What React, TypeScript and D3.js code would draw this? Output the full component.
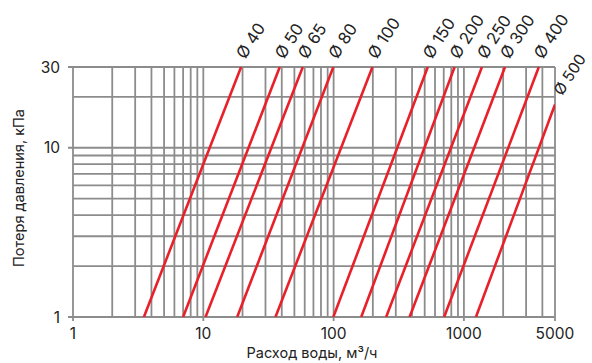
import React from "react";
import * as d3 from "d3";

const diameters = ["Ø 40", "Ø 50", "Ø 65", "Ø 80", "Ø 100", "Ø 150", "Ø 200", "Ø 250", "Ø 300", "Ø 400", "Ø 500"];
const startFlow = [3.5, 7.0, 10.4, 18.2, 35.8, 99.5, 163, 253, 383, 705, 1237];
const startPressure = [1, 1, 1, 1, 1, 1, 1, 1, 1, 1, 1];
const endFlow = [19.5, 38.6, 58, 99.5, 198.6, 528, 848, 1375, 2067, 3756, 5000];
const endPressure = [30, 30, 30, 30, 30, 30, 30, 30, 30, 30, 18];

const xTickLabels = [1, 10, 100, 1000, 5000];
const yTickLabels = [1, 10, 30];
const xGrid = [1, 2, 3, 4, 5, 6, 7, 8, 9, 10, 20, 30, 40, 50, 60, 70, 80, 90, 100, 200, 300, 400, 500, 600, 700, 800, 900, 1000, 2000, 3000, 4000, 5000];
const yGrid = [1, 2, 3, 4, 5, 6, 7, 8, 9, 10, 20, 30];

const W = 592, H = 363;
const M = { left: 73, right: 555, top: 67, bottom: 317 };
const FONT = "Inter, 'Open Sans', sans-serif";

export default function App() {
  const x = d3.scaleLog().domain([1, 5000]).range([M.left, M.right]);
  const y = d3.scaleLog().domain([1, 30]).range([M.bottom, M.top]);
  const grid = "#8c8c8c";
  const red = "#e8202a";
  return (
    <svg width={W} height={H} style={{ position: "absolute", left: 0, top: 0 }} fontFamily={FONT}>
      <defs>
        <clipPath id="plot">
          <rect x={M.left} y={M.top} width={M.right - M.left} height={M.bottom - M.top} />
        </clipPath>
      </defs>
      {xGrid.map((v) => (
        <line key={"xg" + v} x1={x(v)} x2={x(v)} y1={M.top} y2={xTickLabels.includes(v) ? M.bottom + 4 : M.bottom} stroke={grid} strokeWidth={1.8} />
      ))}
      {yGrid.map((v) => (
        <line key={"yg" + v} x1={yTickLabels.includes(v) ? M.left - 5 : M.left} x2={M.right} y1={y(v)} y2={y(v)} stroke={grid} strokeWidth={1.8} />
      ))}
      <g clipPath="url(#plot)">
        {diameters.map((d, i) => (
          <line key={d} x1={x(startFlow[i])} y1={y(startPressure[i])} x2={x(endFlow[i])} y2={y(endPressure[i])} stroke={red} strokeWidth={2.6} />
        ))}
      </g>
      {diameters.map((d, i) => {
        const last = i === diameters.length - 1;
        const ax = last ? x(endFlow[i]) + 7 : x(endFlow[i]) + 4;
        const ay = last ? y(endPressure[i]) - 8 : M.top - 7;
        return (
          <text key={"l" + d} transform={`translate(${ax},${ay}) rotate(-57)`} fontSize={last ? 15.5 : 16.5} fill="#222">
            {d}
          </text>
        );
      })}
      {xTickLabels.map((v) => (
        <text key={"xt" + v} x={x(v)} y={M.bottom + 22} textAnchor="middle" fontSize={15.5} fill="#222">
          {v}
        </text>
      ))}
      {yTickLabels.map((v) => (
        <text key={"yt" + v} x={M.left - 13} y={y(v)} dy="0.36em" textAnchor="end" fontSize={15.5} fill="#222">
          {v}
        </text>
      ))}
      <text x={312} y={358} textAnchor="middle" fontSize={14.5} fill="#222">
        Расход воды, м³/ч
      </text>
      <text transform={`translate(24,188) rotate(-90)`} textAnchor="middle" fontSize={14.5} fill="#222">
        Потеря давления, кПа
      </text>
    </svg>
  );
}
